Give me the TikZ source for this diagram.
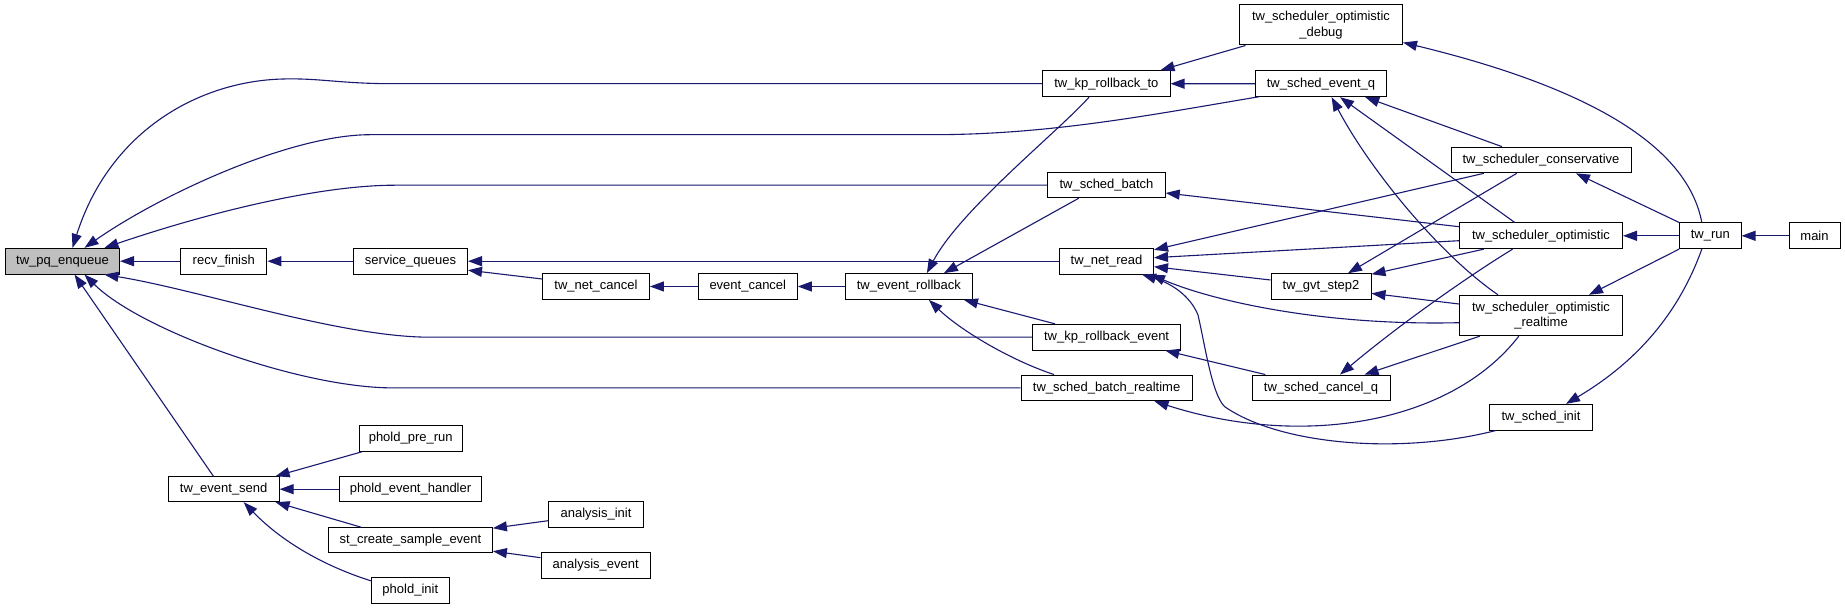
\documentclass[tikz,border=0pt]{standalone}
\usepackage{fontspec}
\setmainfont{Liberation Sans}
\usetikzlibrary{arrows.meta}
\definecolor{edgeblue}{HTML}{191970}
\begin{document}
\begin{tikzpicture}[x=1pt,y=-1pt,
  box/.style={draw=black, line width=1pt, fill=white, inner sep=0pt,
    font=\fontsize{13}{15.4}\selectfont, align=center},
  edge/.style={draw=edgeblue, line width=1.1pt, -{Triangle[length=14pt,width=10pt]}}]
\fill[white] (0,0) rectangle (1845,609);
\useasboundingbox (0,0) rectangle (1845,609);

% nodes
\node[box, fill=gray!50, minimum width=114pt, minimum height=25.7pt] (pq) at (62.5,261.2) {tw\_pq\_enqueue};
\node[box, minimum width=86.2pt, minimum height=25.7pt] (recv) at (223.8,261.2) {recv\_finish};
\node[box, minimum width=114pt, minimum height=25.7pt] (sq) at (410.5,261.2) {service\_queues};
\node[box, minimum width=106.8pt, minimum height=25.7pt] (netcancel) at (596,286.5) {tw\_net\_cancel};
\node[box, minimum width=99pt, minimum height=25.7pt] (evcancel) at (747.8,286.5) {event\_cancel};
\node[box, minimum width=127pt, minimum height=25.7pt] (evrollback) at (908.9,286.5) {tw\_event\_rollback};
\node[box, minimum width=127.2pt, minimum height=26pt] (kprollto) at (1106.4,83.7) {tw\_kp\_rollback\_to};
\node[box, minimum width=117.4pt, minimum height=25pt] (schedbatch) at (1106.5,185.2) {tw\_sched\_batch};
\node[box, minimum width=94pt, minimum height=25.7pt] (netread) at (1106.5,261.2) {tw\_net\_read};
\node[box, minimum width=148.4pt, minimum height=25.7pt] (kprollev) at (1106.6,337.2) {tw\_kp\_rollback\_event};
\node[box, minimum width=170.8pt, minimum height=25.7pt] (batchrt) at (1106.6,387.9) {tw\_sched\_batch\_realtime};
\node[box, minimum width=110.8pt, minimum height=25pt] (evsend) at (223.7,489.2) {tw\_event\_send};
\node[box, minimum width=102.6pt, minimum height=25.6pt] (prerun) at (410.7,438.5) {phold\_pre\_run};
\node[box, minimum width=141.6pt, minimum height=25pt] (evhandler) at (410.5,489.2) {phold\_event\_handler};
\node[box, minimum width=163.8pt, minimum height=25pt] (stcreate) at (410.5,540.2) {st\_create\_sample\_event};
\node[box, minimum width=77.8pt, minimum height=26pt] (pholdinit) at (410.3,590.3) {phold\_init};
\node[box, minimum width=94.6pt, minimum height=25.6pt] (anainit) at (596,514.5) {analysis\_init};
\node[box, minimum width=109.4pt, minimum height=25.7pt] (anaevent) at (595.7,565.2) {analysis\_event};
\node[box, minimum width=163pt, minimum height=40pt] (debug) at (1321,25) {tw\_scheduler\_optimistic\\\_debug};
\node[box, minimum width=131.4pt, minimum height=25.7pt] (eventq) at (1321,83.8) {tw\_sched\_event\_q};
\node[box, minimum width=180pt, minimum height=25.7pt] (conservative) at (1541,160) {tw\_scheduler\_conservative};
\node[box, minimum width=163pt, minimum height=25.7pt] (optimistic) at (1541,235.8) {tw\_scheduler\_optimistic};
\node[box, minimum width=61.4pt, minimum height=25.7pt] (run) at (1710.3,235.8) {tw\_run};
\node[box, minimum width=51pt, minimum height=25.7pt] (main) at (1814.5,235.8) {main};
\node[box, minimum width=100pt, minimum height=25.3pt] (gvt) at (1321,286.4) {tw\_gvt\_step2};
\node[box, minimum width=163pt, minimum height=40.4pt] (realtime) at (1541,315.5) {tw\_scheduler\_optimistic\\\_realtime};
\node[box, minimum width=138pt, minimum height=25.3pt] (cancelq) at (1321,387.7) {tw\_sched\_cancel\_q};
\node[box, minimum width=102.4pt, minimum height=25.7pt] (schedinit) at (1541,417.2) {tw\_sched\_init};

% edges into tw_pq_enqueue
\draw[edge] (kprollto.west) -- (393,83.7) .. controls (340,83.7) and (320,78) .. (283,79) .. controls (200,81) and (110,130) .. ([xshift=10pt]pq.north);
\draw[edge] ([shift={(-61.4,12.85)}]eventq.center) .. controls (1150,115) and (1050,134.7) .. (932,134.7) -- (370,134.7) .. controls (290,134.7) and (160,195) .. ([xshift=22pt]pq.north);
\draw[edge] (schedbatch.west) -- (395,185.2) .. controls (320,185.2) and (210,212) .. ([xshift=42pt]pq.north);
\draw[edge] (recv.west) -- (pq.east);
\draw[edge] (kprollev.west) -- (430,337.2) .. controls (340,337.2) and (200,290) .. ([xshift=42pt]pq.south);
\draw[edge] (batchrt.west) -- (393,387.9) .. controls (300,387.9) and (140,330) .. ([xshift=22pt]pq.south);
\draw[edge] ([xshift=-10.3pt]evsend.north) -- ([xshift=12pt]pq.south);

% middle chain
\draw[edge] (sq.west) -- (recv.east);
\draw[edge] (netread.west) -- (sq.east);
\draw[edge] ([shift={(0,-7.5)}]netcancel.west) -- ([shift={(0,9)}]sq.east);
\draw[edge] (evcancel.west) -- (netcancel.east);
\draw[edge] (evrollback.west) -- (evcancel.east);
\draw[edge] ([xshift=-17.4pt]kprollto.south) .. controls (1060,130) and (960,210) .. ([xshift=18pt]evrollback.north);
\draw[edge] ([xshift=-27.7pt]schedbatch.south) -- ([xshift=35pt]evrollback.north);
\draw[edge] ([xshift=-51.6pt]kprollev.north) -- ([xshift=55pt]evrollback.south);
\draw[edge] ([xshift=-52.6pt]batchrt.north) .. controls (1010,360) and (960,330) .. ([xshift=20pt]evrollback.south);

% right part
\draw[edge] ([xshift=-75.5pt]debug.south) -- ([xshift=-10pt]kprollto.north east);
\draw[edge] (eventq.west) -- (kprollto.east);
\draw[edge] ([shift={(0,-9.1)}]optimistic.west) -- ([shift={(0,7.8)}]schedbatch.east);
\draw[edge] ([xshift=-57.2pt]conservative.south) -- ([shift={(0,2)}]netread.north east);
\draw[edge] ([shift={(0,4.9)}]optimistic.west) -- ([shift={(0,-3.5)}]netread.east);
\draw[edge] ([shift={(0,-6.4)}]gvt.west) -- ([shift={(0,5.5)}]netread.east);
\draw[edge] ([shift={(0,7.2)}]realtime.west) .. controls (1320,326) and (1210,300) .. ([xshift=-3pt]netread.south east);
\draw[edge] ([xshift=6.4pt]schedinit.south west) .. controls (1400,455) and (1280,445) .. (1224.7,406.7) .. controls (1212,395) and (1205,345) .. (1198,315) .. controls (1190,295) and (1170,283) .. ([xshift=-12pt]netread.south east);
\draw[edge] ([xshift=-39pt]conservative.north) -- ([xshift=-22pt]eventq.south east);
\draw[edge] ([xshift=-26.3pt]optimistic.north) -- ([xshift=19pt]eventq.south);
\draw[edge] ([xshift=-43pt]realtime.north) .. controls (1440,255) and (1370,170) .. ([xshift=10.6pt]eventq.south);
\draw[edge] (run.north west) -- ([xshift=35pt]conservative.south);
\draw[edge] (run.west) -- (optimistic.east);
\draw[edge] (run.south west) -- ([xshift=48pt]realtime.north);
\draw[edge] ([xshift=-8.5pt]run.north) .. controls (1690,160) and (1620,95) .. ([shift={(0,-3)}]debug.south east);
\draw[edge] ([xshift=-8.5pt]run.south) .. controls (1680,310) and (1640,360) .. ([xshift=25pt]schedinit.north);
\draw[edge] (main.west) -- (run.east);
\draw[edge] ([xshift=-24.3pt]conservative.south) -- ([xshift=27pt]gvt.north);
\draw[edge] ([xshift=-57.2pt]optimistic.south) -- ([shift={(0,1)}]gvt.north east);
\draw[edge] ([shift={(0,-11.5)}]realtime.west) -- ([shift={(0,7)}]gvt.east);
\draw[edge] ([xshift=-28.4pt]optimistic.south) .. controls (1475,272) and (1405,320) .. ([xshift=19pt]cancelq.north);
\draw[edge] ([xshift=-61.3pt]realtime.south) -- ([xshift=43.5pt]cancelq.north);
\draw[edge] ([xshift=13.8pt]cancelq.north west) -- ([xshift=-16pt]kprollev.south east);
\draw[edge] ([xshift=-22.2pt]realtime.south) .. controls (1450,425) and (1300,448) .. ([xshift=-38pt]batchrt.south east);

% lower left
\draw[edge] ([xshift=33pt]stcreate.north west) -- ([xshift=-4pt]evsend.south east);
\draw[edge] ([xshift=3pt]prerun.south west) -- ([xshift=-4pt]evsend.north east);
\draw[edge] (evhandler.west) -- (evsend.east);
\draw[edge] ([shift={(0,4)}]pholdinit.north west) .. controls (330,568) and (285,545) .. ([xshift=20pt]evsend.south);
\draw[edge] ([shift={(0,6.2)}]anainit.west) -- ([shift={(0,1)}]stcreate.north east);
\draw[edge] ([shift={(0,-7.5)}]anaevent.west) -- ([shift={(0,11)}]stcreate.east);
\end{tikzpicture}
\end{document}
